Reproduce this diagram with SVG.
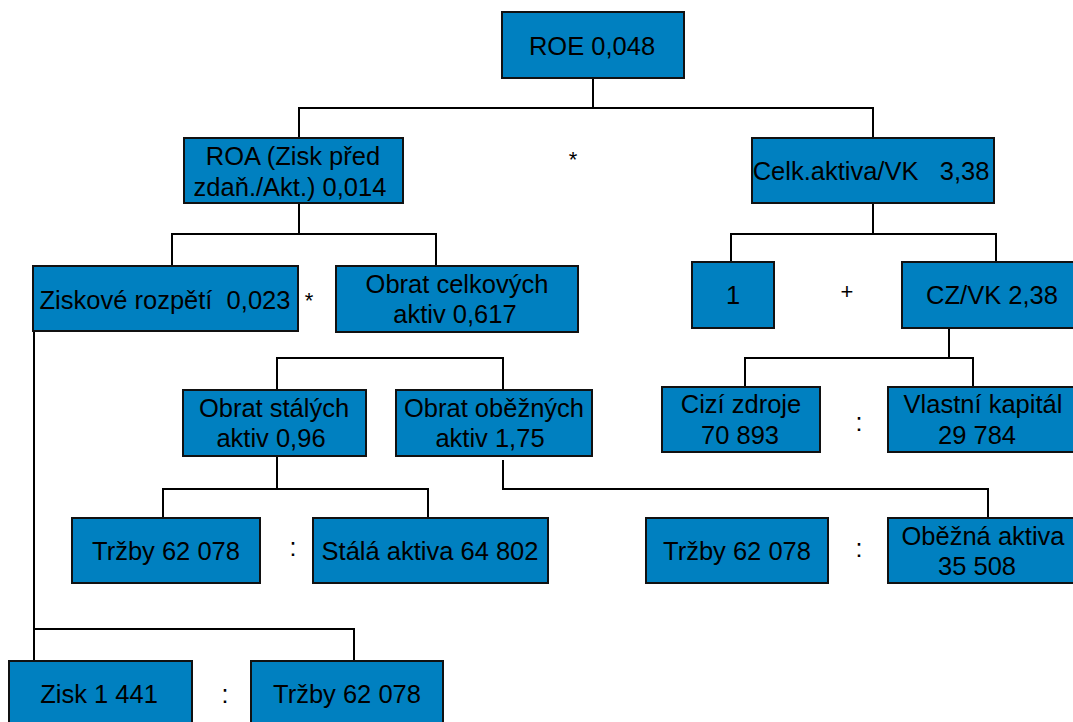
<svg xmlns="http://www.w3.org/2000/svg" width="1073" height="722" viewBox="0 0 1073 722">
  <style>
    .box { fill: #0080c0; stroke: #111; stroke-width: 2; }
    .t { font-family: "Liberation Sans", Arial, sans-serif; font-size: 25.5px; fill: #000; text-anchor: middle; }
    .op { font-family: "Liberation Sans", Arial, sans-serif; font-size: 25px; fill: #000; text-anchor: middle; }
    .sm { font-family: "Liberation Sans", Arial, sans-serif; font-size: 22px; fill: #000; text-anchor: middle; }
    .links line { stroke: #000; stroke-width: 2; }
  </style>
  <rect width="1073" height="722" fill="#fff"/>

  <!-- connectors -->
  <g class="links">
    <!-- ROE -> ROA, Celk.aktiva/VK -->
    <line x1="593" y1="78" x2="593" y2="108"/>
    <line x1="299" y1="108" x2="874" y2="108"/>
    <line x1="299" y1="107" x2="299" y2="138"/>
    <line x1="873" y1="107" x2="873" y2="138"/>
    <!-- ROA -> Ziskové rozpětí, Obrat celkových aktiv -->
    <line x1="299" y1="203" x2="299" y2="234"/>
    <line x1="172" y1="234" x2="437" y2="234"/>
    <line x1="172" y1="233" x2="172" y2="265"/>
    <line x1="436" y1="233" x2="436" y2="265"/>
    <!-- Celk.aktiva/VK -> 1, CZ/VK -->
    <line x1="873" y1="203" x2="873" y2="234"/>
    <line x1="731" y1="234" x2="997" y2="234"/>
    <line x1="731" y1="233" x2="731" y2="262"/>
    <line x1="996" y1="233" x2="996" y2="262"/>
    <!-- Ziskové rozpětí -> Zisk, Tržby -->
    <line x1="34" y1="330" x2="34" y2="661"/>
    <line x1="34" y1="629" x2="355" y2="629"/>
    <line x1="354" y1="628" x2="354" y2="660"/>
    <!-- turnover bracket -->
    <line x1="277" y1="358" x2="504" y2="358"/>
    <line x1="277" y1="357" x2="277" y2="389"/>
    <line x1="503" y1="357" x2="503" y2="389"/>
    <!-- Obrat stálých aktiv -> Tržby, Stálá aktiva -->
    <line x1="277" y1="456" x2="277" y2="489"/>
    <line x1="163" y1="489" x2="429" y2="489"/>
    <line x1="163" y1="488" x2="163" y2="518"/>
    <line x1="428" y1="488" x2="428" y2="518"/>
    <!-- Obrat oběžných aktiv -> Oběžná aktiva -->
    <line x1="503" y1="460" x2="503" y2="490"/>
    <line x1="503" y1="489" x2="989" y2="489"/>
    <line x1="988" y1="488" x2="988" y2="518"/>
    <!-- CZ/VK -> Cizí zdroje, Vlastní kapitál -->
    <line x1="949" y1="328" x2="949" y2="358"/>
    <line x1="745" y1="358" x2="974" y2="358"/>
    <line x1="745" y1="357" x2="745" y2="387"/>
    <line x1="973" y1="357" x2="973" y2="387"/>
  </g>

  <!-- operators -->
  <g id="operators">
    <text class="sm" x="573" y="167">*</text>
    <text class="sm" x="309" y="308">*</text>
    <text class="sm" x="847" y="299">+</text>
    <text class="op" x="859" y="431">:</text>
    <text class="op" x="859" y="557">:</text>
    <text class="op" x="293" y="556">:</text>
    <text class="op" x="225" y="703">:</text>
  </g>

  <g id="roe">
    <rect class="box" x="502" y="12" width="182" height="66"/>
    <text class="t" x="592" y="55">ROE 0,048</text>
  </g>

  <g id="roa">
    <rect class="box" x="184" y="138" width="219" height="65"/>
    <text class="t" x="293" y="165">ROA (Zisk před</text>
    <text class="t" x="290" y="196">zdaň./Akt.) 0,014</text>
  </g>

  <g id="celk-aktiva-vk">
    <rect class="box" x="752" y="138" width="242" height="65"/>
    <text class="t" x="871" y="180" xml:space="preserve">Celk.aktiva/VK   3,38</text>
  </g>

  <g id="ziskove-rozpeti">
    <rect class="box" x="33" y="266" width="265" height="65"/>
    <text class="t" x="165" y="309" xml:space="preserve">Ziskové rozpětí  0,023</text>
  </g>

  <g id="obrat-celkovych">
    <rect class="box" x="336" y="266" width="242" height="66"/>
    <text class="t" x="457" y="293">Obrat celkových</text>
    <text class="t" x="455" y="323">aktiv 0,617</text>
  </g>

  <g id="one">
    <rect class="box" x="692" y="262" width="82" height="66"/>
    <text class="t" x="733" y="304">1</text>
  </g>

  <g id="cz-vk">
    <rect class="box" x="902" y="262" width="180" height="66"/>
    <text class="t" x="992" y="304">CZ/VK 2,38</text>
  </g>

  <g id="obrat-stalych">
    <rect class="box" x="183" y="390" width="183" height="66"/>
    <text class="t" x="274" y="417">Obrat stálých</text>
    <text class="t" x="271" y="447">aktiv 0,96</text>
  </g>

  <g id="obrat-obeznych">
    <rect class="box" x="396" y="390" width="196" height="66"/>
    <text class="t" x="494" y="417">Obrat oběžných</text>
    <text class="t" x="490" y="447">aktiv 1,75</text>
  </g>

  <g id="cizi-zdroje">
    <rect class="box" x="662" y="387" width="158" height="65"/>
    <text class="t" x="741" y="413">Cizí zdroje</text>
    <text class="t" x="740" y="444">70 893</text>
  </g>

  <g id="vlastni-kapital">
    <rect class="box" x="888" y="387" width="194" height="65"/>
    <text class="t" x="983" y="413">Vlastní kapitál</text>
    <text class="t" x="977" y="444">29 784</text>
  </g>

  <g id="trzby-1">
    <rect class="box" x="72" y="518" width="188" height="65"/>
    <text class="t" x="166" y="560">Tržby 62 078</text>
  </g>

  <g id="stala-aktiva">
    <rect class="box" x="313" y="518" width="235" height="65"/>
    <text class="t" x="430" y="560">Stálá aktiva 64 802</text>
  </g>

  <g id="trzby-2">
    <rect class="box" x="646" y="518" width="182" height="65"/>
    <text class="t" x="737" y="560">Tržby 62 078</text>
  </g>

  <g id="obezna-aktiva">
    <rect class="box" x="888" y="518" width="194" height="65"/>
    <text class="t" x="983" y="545">Oběžná aktiva</text>
    <text class="t" x="977" y="575">35 508</text>
  </g>

  <g id="zisk">
    <rect class="box" x="9" y="661" width="183" height="70"/>
    <text class="t" x="99" y="703">Zisk 1 441</text>
  </g>

  <g id="trzby-3">
    <rect class="box" x="251" y="661" width="192" height="70"/>
    <text class="t" x="347" y="703">Tržby 62 078</text>
  </g>
</svg>
